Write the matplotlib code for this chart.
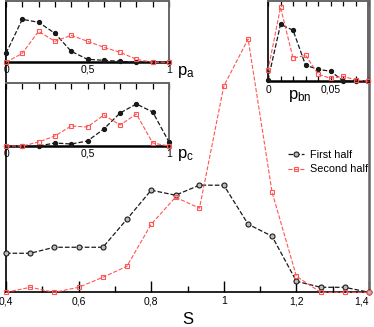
import numpy as np
import matplotlib
matplotlib.use("Agg")
import matplotlib.pyplot as plt

plt.rcParams['font.family'] = ['Liberation Sans', 'DejaVu Sans']

# ------------------------------------------------------------------ #
# Data
# ------------------------------------------------------------------ #
s_vals = [0.4, 0.467, 0.533, 0.6, 0.667, 0.733, 0.8, 0.867,
          0.933, 1.0, 1.067, 1.133, 1.2, 1.267, 1.333, 1.4]
s_first = [0.39, 0.39, 0.45, 0.45, 0.45, 0.73, 1.02, 0.97,
           1.07, 1.07, 0.68, 0.56, 0.11, 0.05, 0.05, 0.0]
s_second = [0.0, 0.05, 0.0, 0.05, 0.15, 0.26, 0.68, 0.95,
            0.84, 2.06, 2.53, 1.00, 0.16, 0.0, 0.0, 0.0]

p_grid = [0.0, 0.1, 0.2, 0.3, 0.4, 0.5, 0.6, 0.7, 0.8, 0.9, 1.0]
pa_first = [0.09, 0.43, 0.40, 0.29, 0.11, 0.03, 0.02, 0.01, 0.0, 0.0, 0.0]
pa_second = [0.0, 0.09, 0.31, 0.21, 0.27, 0.21, 0.15, 0.10, 0.03, 0.0, 0.0]
pc_first = [0.0, 0.0, 0.0, 0.03, 0.02, 0.05, 0.17, 0.33, 0.42, 0.34, 0.04]
pc_second = [0.0, 0.0, 0.04, 0.10, 0.20, 0.19, 0.31, 0.21, 0.32, 0.03, 0.0]

pbn_grid = [0.0, 0.01, 0.02, 0.03, 0.04, 0.05, 0.06, 0.07, 0.08]
pbn_first = [0.013, 0.57, 0.51, 0.16, 0.12, 0.10, 0.003, 0.007, 0.0]
pbn_second = [0.11, 0.74, 0.23, 0.26, 0.07, 0.03, 0.05, 0.013, 0.0]

main_ticks = [0.4, 0.6, 0.8, 1.0, 1.2, 1.4]
main_ticklabels = ["0,4", "0,6", "0,8", "1", "1,2", "1,4"]
p_ticks = [0, 0.5, 1]
p_ticklabels = ["0", "0,5", "1"]
pbn_ticks = [0, 0.05]
pbn_ticklabels = ["0", "0,05"]

BLACK = "#1a1a1a"
RED = "#ff5555"
GRAY = "#666666"

W, H = 374, 327
fig = plt.figure(figsize=(W / 100, H / 100), dpi=100)


def px_axes(left, top, right, bottom):
    return fig.add_axes([left / W, (H - bottom) / H,
                         (right - left) / W, (bottom - top) / H])


def draw_pair(ax, x, y1, y2, ms=3.2, black_fill=BLACK):
    ax.plot(x, y1, ls="--", color=BLACK, lw=0.9, marker="o", ms=ms,
            mfc=black_fill, mec=BLACK, mew=0.8, label="First half",
            clip_on=False, zorder=3)
    ax.plot(x, y2, ls="--", color=RED, lw=0.8, marker="s", ms=ms - 0.3,
            mfc="none", mec=RED, mew=0.8, label="Second half",
            clip_on=False, zorder=3)


# ------------------------------------------------------------------ #
# Main panel
# ------------------------------------------------------------------ #
ax = px_axes(6, 0, 369, 292.3)
draw_pair(ax, s_vals, s_first, s_second, ms=3.6, black_fill="#bbbbbb")
ax.set_xlim(0.4, 1.4)
ax.set_ylim(0, 2.92)
ax.set_xticks(main_ticks)
ax.set_xticklabels(main_ticklabels, fontsize=7.5)
ax.get_xticklabels()[-1].set_ha("right")
ax.set_xticks(np.arange(0.5, 1.4, 0.2), minor=True)
ax.set_yticks([])
ax.tick_params(axis="x", which="major", direction="in", length=8,
               width=1.0, pad=3)
ax.tick_params(axis="x", which="minor", direction="in", length=4,
               width=1.0)
ax.spines["top"].set_visible(False)
ax.spines["left"].set_linewidth(1.2)
ax.spines["bottom"].set_linewidth(1.2)
ax.spines["right"].set_color(GRAY)
ax.spines["right"].set_linewidth(1.8)
ax.set_xlabel("S", fontsize=12, labelpad=4)
ax.legend(loc="upper left", bbox_to_anchor=(288 / W, (H - 150) / H),
          bbox_transform=fig.transFigure, frameon=False, fontsize=7.8,
          handlelength=1.5, handletextpad=0.5, labelspacing=0.4,
          borderpad=0, borderaxespad=0)


# ------------------------------------------------------------------ #
# Insets
# ------------------------------------------------------------------ #
def style_inset(ax, xticks, xticklabels, minor):
    ax.set_xticks(minor)
    ax.set_xticklabels([])
    ax.tick_params(axis="x", top=True, bottom=False, direction="in",
                   length=4, width=0.9, labelbottom=False)
    ax.set_yticks([])
    ax.spines["left"].set_linewidth(1.2)
    ax.spines["bottom"].set_linewidth(1.8)
    for side in ("top", "right"):
        ax.spines[side].set_color(GRAY)
        ax.spines[side].set_linewidth(1.4)
    for t, lab in zip(xticks, xticklabels):
        ax.text(t, -0.04, lab, transform=ax.get_xaxis_transform(),
                ha="center", va="top", fontsize=7.5)


ax_a = px_axes(6, 1, 169, 62.3)
draw_pair(ax_a, p_grid, pa_first, pa_second, ms=3.0)
ax_a.set_xlim(0, 1)
ax_a.set_ylim(0, 0.613)
style_inset(ax_a, p_ticks, p_ticklabels, p_grid)
ax_a.text(1.05, -0.02, r"$\mathregular{p_a}$", transform=ax_a.transAxes,
          ha="left", va="top", fontsize=12)

ax_c = px_axes(6, 83.3, 169, 146)
draw_pair(ax_c, p_grid, pc_first, pc_second, ms=3.0)
ax_c.set_xlim(0, 1)
ax_c.set_ylim(0, 0.627)
style_inset(ax_c, p_ticks, p_ticklabels, p_grid)
ax_c.text(1.05, -0.02, r"$\mathregular{p_c}$", transform=ax_c.transAxes,
          ha="left", va="top", fontsize=12)

ax_bn = px_axes(268, 0.5, 368.3, 81.3)
draw_pair(ax_bn, pbn_grid, pbn_first, pbn_second, ms=3.0)
ax_bn.set_xlim(0, 0.08)
ax_bn.set_ylim(0, 0.808)
style_inset(ax_bn, pbn_ticks, pbn_ticklabels, pbn_grid)
ax_bn.tick_params(axis="x", bottom=True, length=3.5)
ax_bn.text(0.32, -0.08, r"$\mathregular{p_{bn}}$", transform=ax_bn.transAxes,
           ha="center", va="top", fontsize=12)

fig.savefig("out.png", dpi=100)
